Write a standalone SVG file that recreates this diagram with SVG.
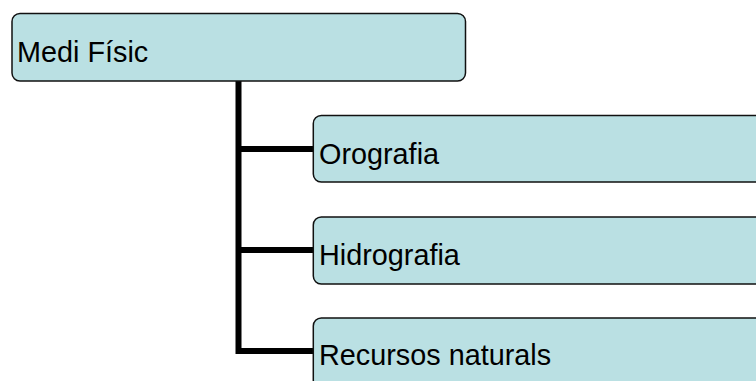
<svg xmlns="http://www.w3.org/2000/svg" width="756" height="381" viewBox="0 0 756 381">
<style>
.box{fill:#BAE0E3;stroke:#111;stroke-width:1.5}
.lbl{font-family:"Liberation Sans",Arial,sans-serif;font-size:28.8px;fill:#000}
.conn{fill:none;stroke:#000;stroke-width:6;stroke-linejoin:miter;stroke-linecap:butt}
</style>
<rect width="756" height="381" fill="#fff"/>
<g id="connectors">
<path class="conn" d="M238.5 81 V351 H313"/>
<path class="conn" d="M238.5 149 H313"/>
<path class="conn" d="M238.5 250 H313"/>
</g>
<g id="medi-fisic">
<rect class="box" x="12" y="13.5" width="453.5" height="67.5" rx="8"/>
<text class="lbl" x="17" y="61.5">Medi Físic</text>
</g>
<g id="orografia">
<rect class="box" x="313.3" y="115.5" width="460" height="66.5" rx="8"/>
<text class="lbl" x="319" y="163.5">Orografia</text>
</g>
<g id="hidrografia">
<rect class="box" x="313.3" y="217" width="460" height="67" rx="8"/>
<text class="lbl" x="319" y="264.5">Hidrografia</text>
</g>
<g id="recursos-naturals">
<rect class="box" x="313.3" y="318" width="460" height="70" rx="8"/>
<text class="lbl" x="319" y="364.5">Recursos naturals</text>
</g>
</svg>
